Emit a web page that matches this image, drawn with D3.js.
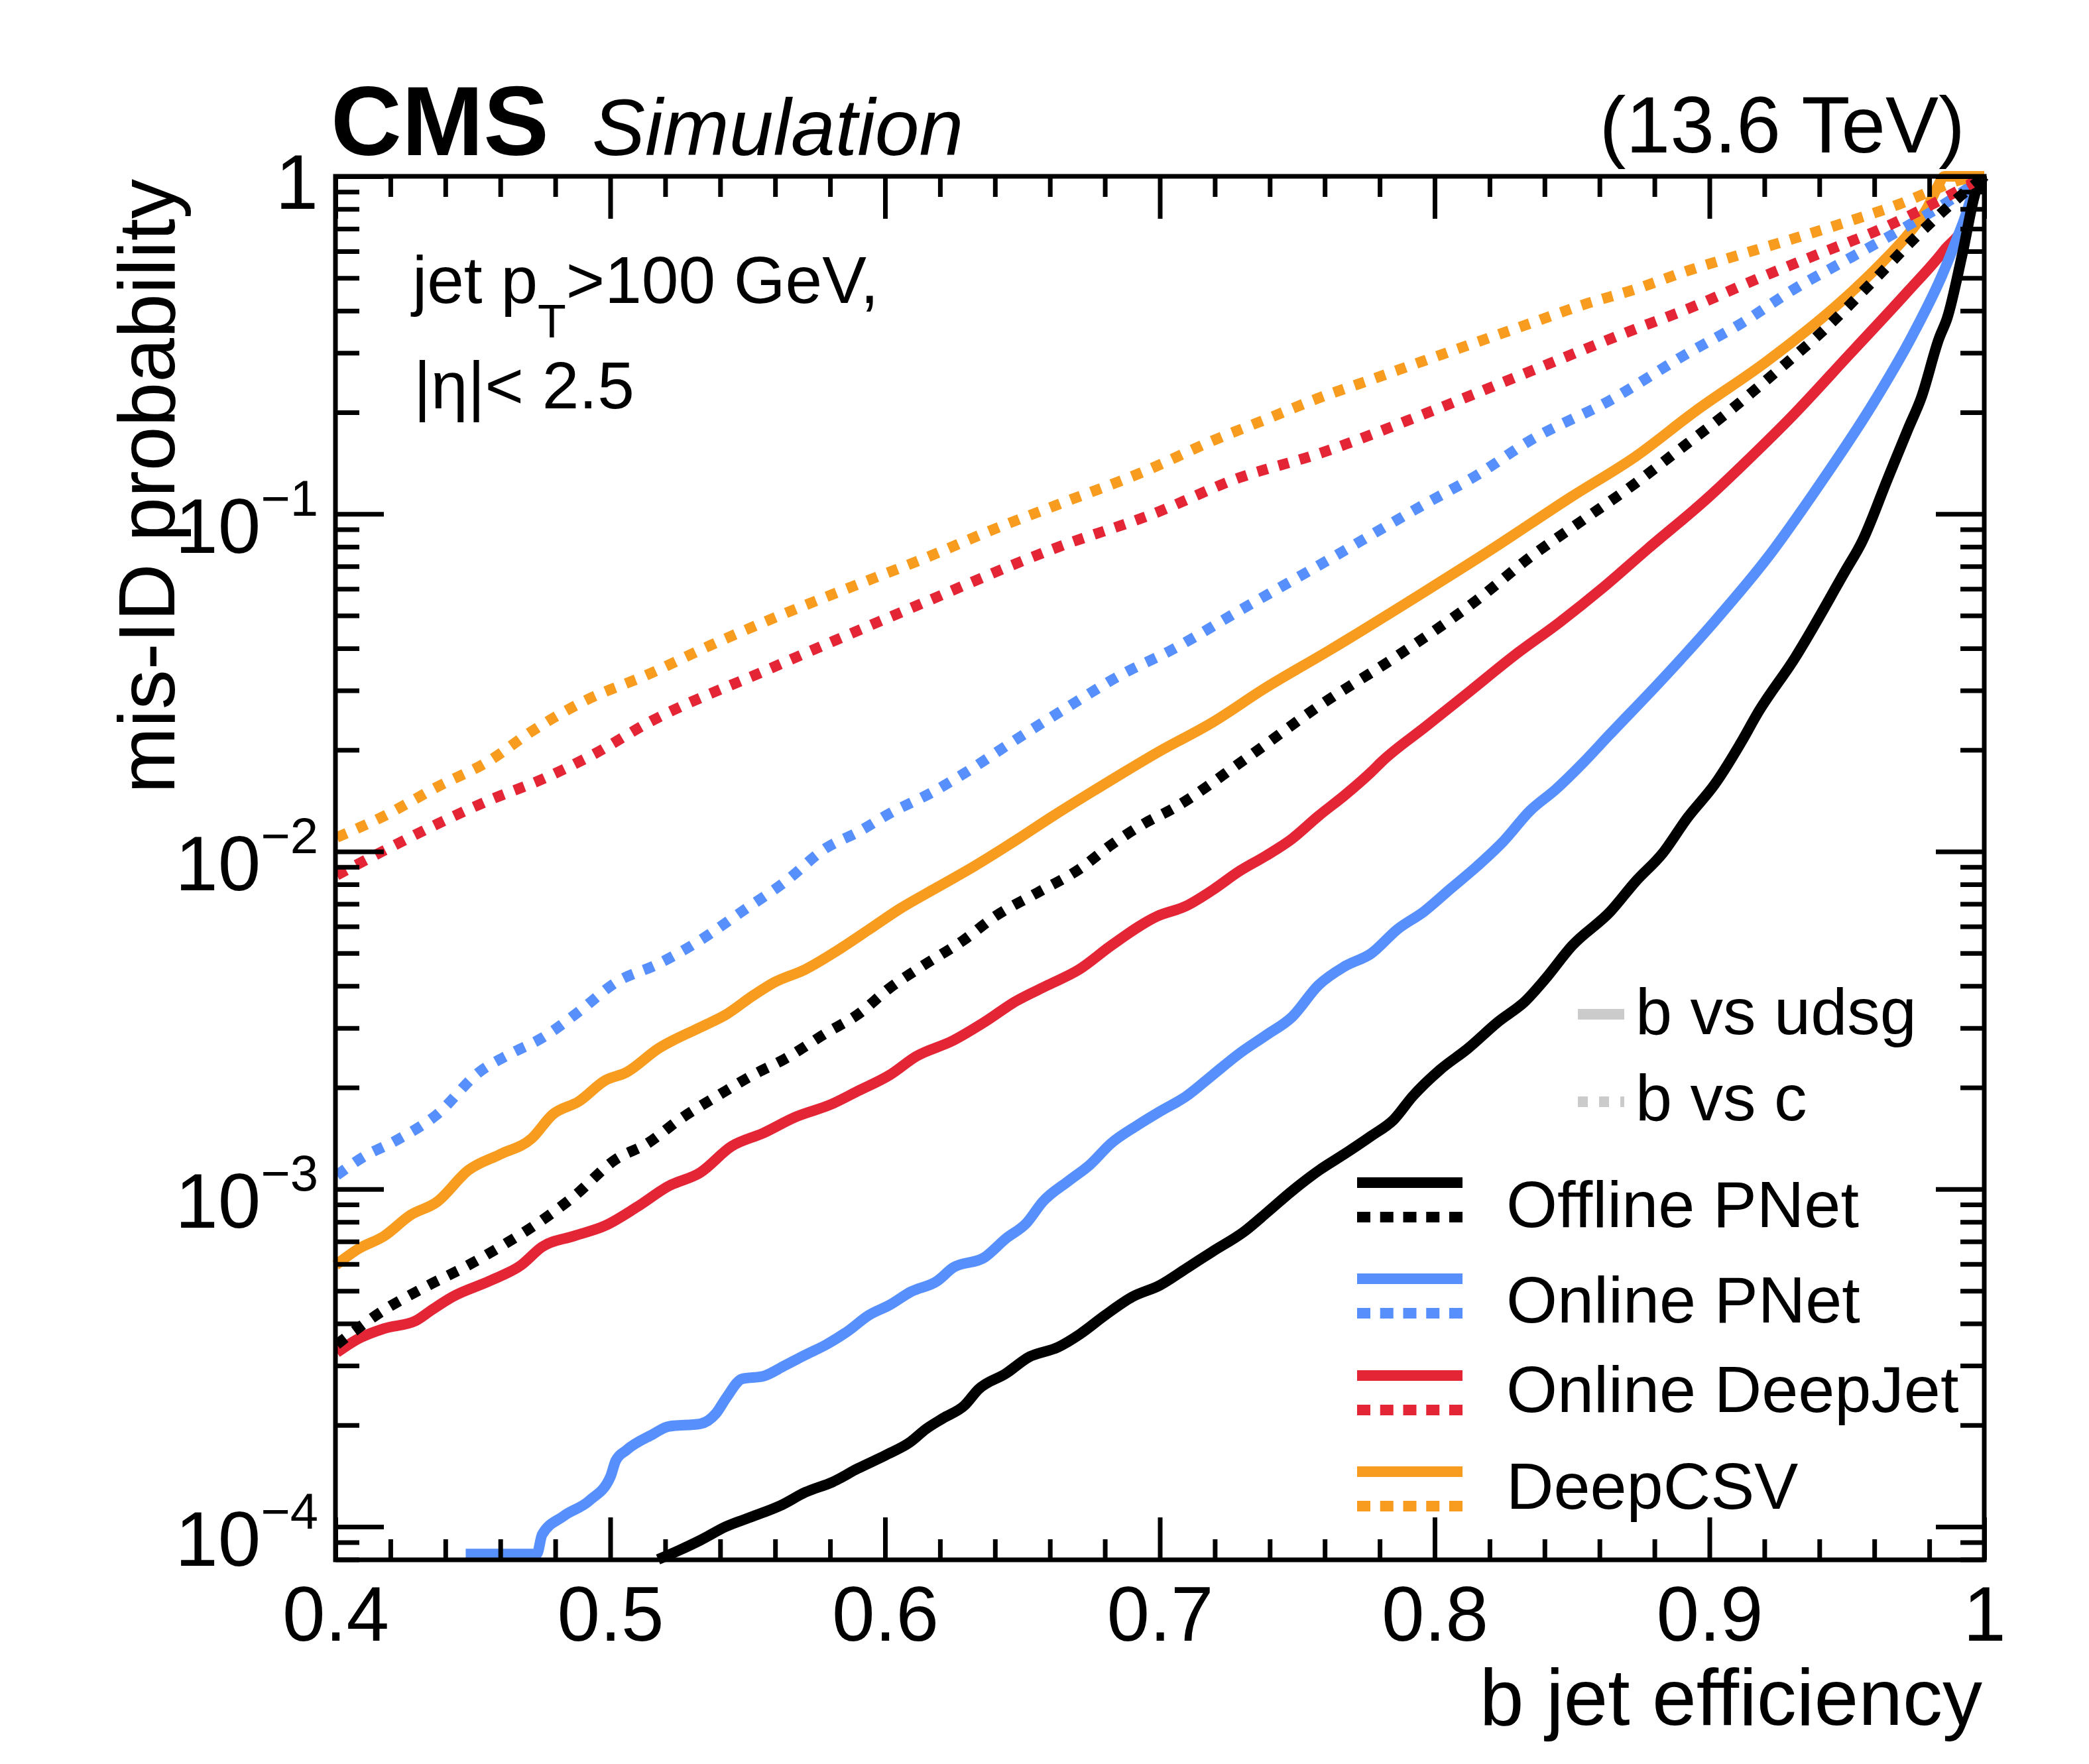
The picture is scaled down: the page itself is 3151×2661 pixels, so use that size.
<!DOCTYPE html>
<html><head><meta charset="utf-8">
<script src="https://cdn.jsdelivr.net/npm/d3@7"></script>
<style>
html,body{margin:0;padding:0;background:#fff;}
svg{display:block;}
text{font-family:"Liberation Sans",Arial,Helvetica,sans-serif;fill:#000;}
</style>
</head><body>
<svg id="chart" width="3151" height="2661"></svg>
<script>
// ---------------- DATA ----------------
// [b-jet efficiency, mis-ID probability]
const offlinePNetUdsg = [[0.5174,8.0e-5],[0.525,8.51e-5],[0.533,9.14e-5],[0.542,1.00e-4],[0.552,1.074e-4],[0.562,1.156e-4],[0.571,1.265e-4],[0.581,1.358e-4],[0.590,1.486e-4],[0.600,1.626e-4],[0.609,1.778e-4],[0.615,1.950e-4],[0.621,2.094e-4],[0.629,2.291e-4],[0.634,2.553e-4],[0.644,2.844e-4],[0.652,3.17e-4],[0.663,3.404e-4],[0.671,3.724e-4],[0.680,4.227e-4],[0.690,4.797e-4],[0.700,5.19e-4],[0.710,5.85e-4],[0.719,6.52e-4],[0.731,7.52e-4],[0.739,8.53e-4],[0.748,9.86e-4],[0.758,1.138e-3],[0.767,1.268e-3],[0.777,1.439e-3],[0.785,1.603e-3],[0.792,1.884e-3],[0.802,2.259e-3],[0.812,2.606e-3],[0.823,3.126e-3],[0.833,3.606e-3],[0.840,4.169e-3],[0.850,5.26e-3],[0.864,6.65e-3],[0.873,8.13e-3],[0.883,9.89e-3],[0.892,1.259e-2],[0.902,1.585e-2],[0.912,2.138e-2],[0.9173,2.55e-2],[0.931,3.733e-2],[0.950,6.90e-2],[0.9552,8.17e-2],[0.965,0.128],[0.9724,0.1795],[0.977,0.220],[0.9836,0.332],[0.9865,0.380],[0.992,0.587],[0.997,0.906],[1.0,1.0]];
const offlinePNetC = [[0.4005,3.467e-4],[0.4177,4.385e-4],[0.4331,5.152e-4],[0.4484,5.957e-4],[0.4599,6.745e-4],[0.4752,8.091e-4],[0.4867,9.506e-4],[0.502,1.225e-3],[0.5135,1.365e-3],[0.525,1.603e-3],[0.5404,1.919e-3],[0.5519,2.178e-3],[0.5634,2.427e-3],[0.5787,2.904e-3],[0.5902,3.296e-3],[0.6017,3.945e-3],[0.6132,4.56e-3],[0.6285,5.458e-3],[0.6401,6.43e-3],[0.6554,7.551e-3],[0.6707,8.872e-3],[0.6822,1.045e-2],[0.6956,1.227e-2],[0.7038,1.327e-2],[0.7308,1.871e-2],[0.7577,2.692e-2],[0.7865,3.802e-2],[0.8154,5.559e-2],[0.8346,7.43e-2],[0.8538,9.57e-2],[0.8731,0.1233],[0.8875,0.1517],[0.9065,0.1995],[0.925,0.2667],[0.9431,0.3597],[0.9603,0.4966],[0.9767,0.6808],[0.9888,0.8395],[1.0,1.0]];
const onlinePNetUdsg = [[0.4474,8.3e-5],[0.4733,8.3e-5],[0.4752,9.48e-5],[0.4829,1.074e-4],[0.4925,1.197e-4],[0.5001,1.409e-4],[0.502,1.570e-4],[0.5059,1.687e-4],[0.5155,1.879e-4],[0.5212,1.982e-4],[0.5327,2.018e-4],[0.5385,2.168e-4],[0.5423,2.415e-4],[0.548,2.742e-4],[0.5557,2.793e-4],[0.5634,2.999e-4],[0.571,3.228e-4],[0.5787,3.467e-4],[0.5864,3.793e-4],[0.594,4.227e-4],[0.6017,4.539e-4],[0.6094,4.966e-4],[0.619,5.346e-4],[0.6247,5.85e-4],[0.6362,6.28e-4],[0.6439,7.13e-4],[0.6515,7.94e-4],[0.6573,9.16e-4],[0.6669,1.059e-3],[0.6745,1.180e-3],[0.6822,1.365e-3],[0.6918,1.545e-3],[0.700,1.698e-3],[0.7096,1.884e-3],[0.7192,2.178e-3],[0.7288,2.518e-3],[0.7385,2.851e-3],[0.7481,3.236e-3],[0.7577,4.018e-3],[0.7673,4.571e-3],[0.7769,4.989e-3],[0.7865,5.888e-3],[0.7962,6.65e-3],[0.8058,7.76e-3],[0.8154,9.04e-3],[0.825,1.072e-2],[0.8346,1.318e-2],[0.8442,1.531e-2],[0.8538,1.824e-2],[0.8635,2.213e-2],[0.8827,3.228e-2],[0.9019,4.809e-2],[0.9212,7.43e-2],[0.9404,0.1233],[0.9596,0.2128],[0.9731,0.3289],[0.9846,0.5082],[0.9923,0.7295],[0.998,0.975],[1.0,1.0]];
const onlinePNetC = [[0.4005,1.099e-3],[0.4101,1.245e-3],[0.4216,1.387e-3],[0.4369,1.663e-3],[0.4522,2.218e-3],[0.4637,2.518e-3],[0.4752,2.805e-3],[0.4886,3.357e-3],[0.502,4.093e-3],[0.5174,4.645e-3],[0.5327,5.458e-3],[0.548,6.65e-3],[0.5634,8.11e-3],[0.5787,1.026e-2],[0.5902,1.143e-2],[0.6017,1.297e-2],[0.617,1.496e-2],[0.6285,1.698e-2],[0.6477,2.148e-2],[0.6669,2.692e-2],[0.686,3.342e-2],[0.7038,3.936e-2],[0.7288,5.164e-2],[0.7577,7.03e-2],[0.7962,0.1067],[0.8154,0.1303],[0.8346,0.1648],[0.8635,0.2163],[0.8923,0.2999],[0.9115,0.3664],[0.9308,0.4634],[0.95,0.5662],[0.9692,0.6918],[0.9885,0.859],[1.0,1.0]];
const onlineDeepJetUdsg = [[0.4005,3.281e-4],[0.4081,3.597e-4],[0.4177,3.864e-4],[0.4292,4.074e-4],[0.435,4.385e-4],[0.4426,4.797e-4],[0.4561,5.346e-4],[0.4676,5.957e-4],[0.4752,6.745e-4],[0.4867,7.261e-4],[0.4982,7.798e-4],[0.5097,8.851e-4],[0.5212,1.021e-3],[0.5327,1.119e-3],[0.5442,1.340e-3],[0.5557,1.466e-3],[0.5672,1.633e-3],[0.5806,1.786e-3],[0.5902,1.954e-3],[0.6017,2.178e-3],[0.6113,2.472e-3],[0.6247,2.754e-3],[0.6362,3.126e-3],[0.6477,3.606e-3],[0.6592,4.018e-3],[0.6707,4.477e-3],[0.6822,5.26e-3],[0.699,6.43e-3],[0.7096,6.90e-3],[0.7192,7.69e-3],[0.7288,8.73e-3],[0.7385,9.70e-3],[0.7481,1.091e-2],[0.7577,1.274e-2],[0.7673,1.469e-2],[0.7769,1.72e-2],[0.7807,1.845e-2],[0.7969,2.35e-2],[0.813,2.992e-2],[0.8292,3.82e-2],[0.8453,4.764e-2],[0.8615,6.07e-2],[0.8776,7.889e-2],[0.8992,0.1112],[0.9173,0.1535],[0.9293,0.1919],[0.9509,0.2965],[0.9724,0.4581],[0.9853,0.6026],[0.9939,0.7551],[0.9974,0.9638],[1.0,1.0]];
const onlineDeepJetC = [[0.4005,8.51e-3],[0.4177,1.007e-2],[0.4369,1.205e-2],[0.456,1.419e-2],[0.4752,1.637e-2],[0.4944,1.95e-2],[0.5135,2.40e-2],[0.5576,3.467e-2],[0.6094,5.26e-2],[0.663,7.98e-2],[0.6975,0.100],[0.7288,0.1279],[0.7577,0.1507],[0.7962,0.1977],[0.8346,0.2642],[0.8731,0.3532],[0.8923,0.4055],[0.9173,0.4966],[0.9397,0.5888],[0.9621,0.6966],[0.9827,0.8395],[1.0,1.0]];
const deepCSVUdsg = [[0.4001,5.957e-4],[0.4081,6.637e-4],[0.4177,7.261e-4],[0.4273,8.375e-4],[0.4369,9.16e-4],[0.4484,1.138e-3],[0.4599,1.268e-3],[0.4714,1.413e-3],[0.479,1.663e-3],[0.4886,1.820e-3],[0.4982,2.099e-3],[0.5059,2.218e-3],[0.5174,2.606e-3],[0.5327,3.013e-3],[0.5423,3.296e-3],[0.5519,3.741e-3],[0.5596,4.093e-3],[0.571,4.477e-3],[0.5825,5.082e-3],[0.594,5.861e-3],[0.6055,6.776e-3],[0.619,7.834e-3],[0.6324,9.04e-3],[0.6477,1.081e-2],[0.6611,1.274e-2],[0.6765,1.524e-2],[0.686,1.698e-2],[0.699,1.963e-2],[0.7192,2.415e-2],[0.7385,3.055e-2],[0.7615,3.936e-2],[0.7962,5.875e-2],[0.8192,7.71e-2],[0.85,0.1127],[0.8731,0.1479],[0.8948,0.2014],[0.9207,0.2825],[0.9465,0.4159],[0.9638,0.5662],[0.9724,0.6745],[0.9793,0.807],[0.9828,0.923],[0.9855,1.0],[1.0,1.0]];
const deepCSVC = [[0.4005,1.102e-2],[0.4177,1.274e-2],[0.4369,1.552e-2],[0.456,1.858e-2],[0.4714,2.27e-2],[0.4906,2.793e-2],[0.5136,3.342e-2],[0.5365,4.083e-2],[0.5614,4.989e-2],[0.5902,6.19e-2],[0.6151,7.43e-2],[0.6381,8.91e-2],[0.663,0.1067],[0.6956,0.135],[0.7192,0.1648],[0.7385,0.1905],[0.7577,0.2203],[0.7769,0.25],[0.7962,0.2844],[0.8154,0.3228],[0.8346,0.3664],[0.8538,0.4159],[0.8731,0.4634],[0.8923,0.526],[0.9115,0.5875],[0.9308,0.6546],[0.95,0.7328],[0.9692,0.8279],[0.9808,0.9057],[0.9923,0.9817],[1.0,1.0]];

const taggerNames = ["Offline PNet","Online PNet","Online DeepJet","DeepCSV"];
const taggerColors = ["#000000","#5790fc","#e42536","#f89c20"];
const styleNames = ["b vs udsg","b vs c"];

const xMajorTicks = [0.4,0.5,0.6,0.7,0.8,0.9,1.0];
const xTickLabels = ["0.4","0.5","0.6","0.7","0.8","0.9","1"];
const yMajorTicks = [1e-4,1e-3,1e-2,1e-1,1];
const yTickBase = ["10","10","10","10","1"];
const yTickExp = ["\u22124","\u22123","\u22122","\u22121",""];

// ---------------- LAYOUT ----------------
const W = 3151, H = 2661;
const L = 506, R = 2993, T = 266, B = 2353;
const FONT = '"Liberation Sans",Arial,Helvetica,sans-serif';
const svg = d3.select("#chart");
svg.append("rect").attr("width", W).attr("height", H).attr("fill", "#fff");

const x = d3.scaleLinear().domain([0.4, 1.0]).range([L, R]);
const y = d3.scaleLog().domain([7.98e-5, 1]).range([B, T]);

const xMinorTicks = d3.range(21, 50).filter(i => i % 5 !== 0).map(i => i / 50);
const yMinorTicks = [];
[-5,-4,-3,-2,-1].forEach(e => { for (let m = 2; m <= 9; m++) { const v = m * Math.pow(10, e); if (v >= 7.98e-5 && v < 1) yMinorTicks.push(v); } });

function styleAxis(g) {
  g.attr("font-family", FONT);
  g.select(".domain").remove();
  g.selectAll(".tick line").attr("stroke", "#000").attr("stroke-width", 7);
}

// ---------------- CURVES ----------------
const line = d3.line().x(d => x(d[0])).y(d => y(d[1])).curve(d3.curveMonotoneX);
const curves = svg.append("g").attr("fill", "none");
const solidSeries = [[deepCSVUdsg,3],[onlineDeepJetUdsg,2],[onlinePNetUdsg,1],[offlinePNetUdsg,0]];
const dottedSeries = [[onlinePNetC,1],[onlineDeepJetC,2],[deepCSVC,3],[offlinePNetC,0]];
solidSeries.forEach(([data, ci]) => {
  curves.append("path").datum(data).attr("d", line)
    .attr("stroke", taggerColors[ci]).attr("stroke-width", 16).attr("stroke-linejoin", "round");
});
dottedSeries.forEach(([data, ci]) => {
  curves.append("path").datum(data).attr("d", line)
    .attr("stroke", taggerColors[ci]).attr("stroke-width", 16)
    .attr("stroke-dasharray", "16 17").attr("stroke-linecap", "butt");
});

// ---------------- AXES ----------------
const gxB = svg.append("g").attr("transform", `translate(0,${B})`)
  .call(d3.axisBottom(x).tickValues(xMajorTicks).tickSize(-64).tickPadding(0).tickFormat((d, i) => xTickLabels[i]));
styleAxis(gxB);
gxB.selectAll(".tick text").attr("dy", null).attr("y", 122).attr("font-size", 116).attr("fill", "#000");
const gxBm = svg.append("g").attr("transform", `translate(0,${B})`)
  .call(d3.axisBottom(x).tickValues(xMinorTicks).tickSize(-31).tickFormat(""));
styleAxis(gxBm);
const gxT = svg.append("g").attr("transform", `translate(0,${T})`)
  .call(d3.axisTop(x).tickValues(xMajorTicks).tickSize(-64).tickFormat(""));
styleAxis(gxT);
const gxTm = svg.append("g").attr("transform", `translate(0,${T})`)
  .call(d3.axisTop(x).tickValues(xMinorTicks).tickSize(-31).tickFormat(""));
styleAxis(gxTm);
const gyL = svg.append("g").attr("transform", `translate(${L},0)`)
  .call(d3.axisLeft(y).tickValues(yMajorTicks).tickSize(-73).tickFormat(() => ""));
styleAxis(gyL);
gyL.selectAll(".tick").each(function (d, i) {
  const t = d3.select(this).select("text");
  t.text(null).attr("x", -26).attr("dy", null).attr("text-anchor", "end")
    .attr("y", yTickExp[i] ? 58 : 48).attr("font-size", 116).attr("fill", "#000");
  t.append("tspan").text(yTickBase[i]);
  if (yTickExp[i]) t.append("tspan").attr("font-size", 76).attr("dy", -56).text(yTickExp[i]);
});
const gyLm = svg.append("g").attr("transform", `translate(${L},0)`)
  .call(d3.axisLeft(y).tickValues(yMinorTicks).tickSize(-36).tickFormat(""));
styleAxis(gyLm);
const gyR = svg.append("g").attr("transform", `translate(${R},0)`)
  .call(d3.axisRight(y).tickValues(yMajorTicks).tickSize(-73).tickFormat(""));
styleAxis(gyR);
const gyRm = svg.append("g").attr("transform", `translate(${R},0)`)
  .call(d3.axisRight(y).tickValues(yMinorTicks).tickSize(-36).tickFormat(""));
styleAxis(gyRm);

svg.append("rect").attr("x", L).attr("y", T).attr("width", R - L).attr("height", B - T)
  .attr("fill", "none").attr("stroke", "#000").attr("stroke-width", 7);

// ---------------- TITLES ----------------
svg.append("text").attr("x", 2990).attr("y", 2602).attr("text-anchor", "end")
  .attr("font-size", 120).text("b jet efficiency");
svg.append("text").attr("transform", "translate(263,270) rotate(-90)").attr("text-anchor", "end")
  .attr("font-size", 120).text("mis-ID probability");

svg.append("text").attr("x", 499).attr("y", 234).attr("font-size", 148).attr("font-weight", "bold").text("CMS");
svg.append("text").attr("x", 893).attr("y", 234).attr("font-size", 120).attr("font-style", "italic").text("Simulation");
svg.append("text").attr("x", 2964).attr("y", 230).attr("text-anchor", "end").attr("font-size", 120).text("(13.6 TeV)");

const t1 = svg.append("text").attr("x", 622).attr("y", 457).attr("font-size", 100);
t1.append("tspan").text("jet p");
t1.append("tspan").attr("font-size", 70).attr("dy", 52).text("T");
t1.append("tspan").attr("dy", -52).text(">100 GeV,");
svg.append("text").attr("x", 624).attr("y", 616).attr("font-size", 100).text("|\u03b7|< 2.5");

// ---------------- LEGEND ----------------
const styleLegend = { lineX1: 2380, lineX2: 2450, textX: 2467, lineY: [1530, 1662], textY: [1560, 1690] };
styleNames.forEach((name, i) => {
  const ln = svg.append("line").attr("x1", styleLegend.lineX1).attr("x2", styleLegend.lineX2)
    .attr("y1", styleLegend.lineY[i]).attr("y2", styleLegend.lineY[i])
    .attr("stroke", "#cbcbcb").attr("stroke-width", 16);
  if (i === 1) ln.attr("stroke-dasharray", "15 17");
  svg.append("text").attr("x", styleLegend.textX).attr("y", styleLegend.textY[i]).attr("font-size", 99).text(name);
});
const tagLegend = { lineX1: 2047, lineX2: 2206, textX: 2272, solidY: [1784, 1929, 2075, 2220], dotGap: 52, textY: [1851, 1995, 2130, 2276] };
taggerNames.forEach((name, i) => {
  svg.append("line").attr("x1", tagLegend.lineX1).attr("x2", tagLegend.lineX2)
    .attr("y1", tagLegend.solidY[i]).attr("y2", tagLegend.solidY[i])
    .attr("stroke", taggerColors[i]).attr("stroke-width", 16);
  svg.append("line").attr("x1", tagLegend.lineX1).attr("x2", tagLegend.lineX2)
    .attr("y1", tagLegend.solidY[i] + tagLegend.dotGap).attr("y2", tagLegend.solidY[i] + tagLegend.dotGap)
    .attr("stroke", taggerColors[i]).attr("stroke-width", 16).attr("stroke-dasharray", "20 14.75");
  svg.append("text").attr("x", tagLegend.textX).attr("y", tagLegend.textY[i]).attr("font-size", 99).text(name);
});
</script>
</body></html>
